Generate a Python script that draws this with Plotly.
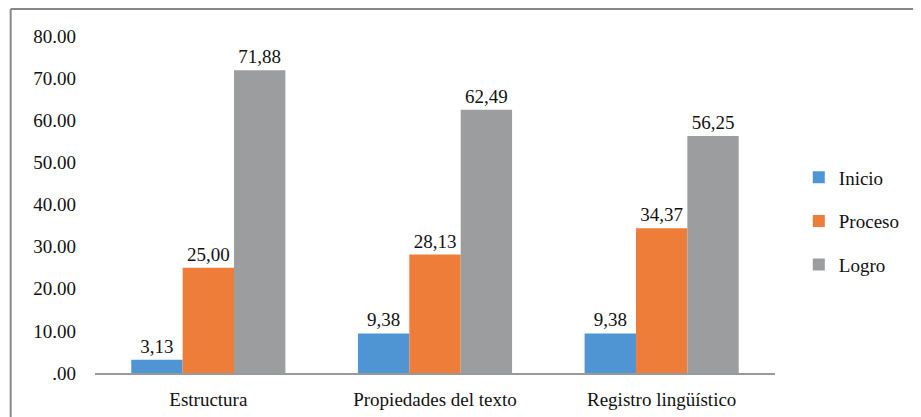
import plotly.graph_objects as go

categorias = ['Estructura', 'Propiedades del texto', 'Registro lingüístico']
inicio = [3.13, 9.38, 9.38]
proceso = [25.00, 28.13, 34.37]
logro = [71.88, 62.49, 56.25]
etiquetas_y = [0, 10, 20, 30, 40, 50, 60, 70, 80]
textos_y = ['.00', '10.00', '20.00', '30.00', '40.00', '50.00', '60.00', '70.00', '80.00']

serif = 'Liberation Serif, Times New Roman, serif'

series = [('Inicio', inicio, '#4f95d3'),
          ('Proceso', proceso, '#ef7d3a'),
          ('Logro', logro, '#9c9d9f')]

fig = go.Figure()
for nombre, valores, color in series:
    fig.add_trace(go.Bar(
        x=categorias, y=valores, name=nombre, legendgroup=nombre,
        marker=dict(color=color, line=dict(width=0)),
        text=[f'{v:.2f}'.replace('.', ',') for v in valores],
        textposition='outside', cliponaxis=False,
        textfont=dict(family=serif, size=19, color='#111111'),
    ))

fig.update_layout(
    width=921, height=417,
    margin=dict(l=87, r=154, t=28, b=52),
    paper_bgcolor='white', plot_bgcolor='white',
    barmode='group', bargap=0.32, bargroupgap=0,
    font=dict(family=serif, size=19, color='#111111'),
    legend=dict(x=1.035, y=0.45, xanchor='left', yanchor='middle',
                font=dict(family=serif, size=19),
                itemwidth=30, tracegroupgap=16),
    xaxis=dict(showline=True, linecolor='#999999', linewidth=1.5, ticks='',
               ticklabelstandoff=8, tickfont=dict(family=serif, size=19)),
    yaxis=dict(range=[0, 80], tickvals=etiquetas_y, ticktext=textos_y,
               showgrid=False, zeroline=False, showline=False, ticks='',
               ticklabelstandoff=18, tickfont=dict(family=serif, size=19)),
    shapes=[dict(type='line', xref='paper', yref='paper',
                 x0=-0.124, x1=-0.124, y0=-0.2, y1=1.08,
                 line=dict(color='#888888', width=2)),
            dict(type='line', xref='paper', yref='paper',
                 x0=-0.124, x1=1.25, y0=1.08, y1=1.08,
                 line=dict(color='#888888', width=2))],
)

fig.write_html('out.html')
